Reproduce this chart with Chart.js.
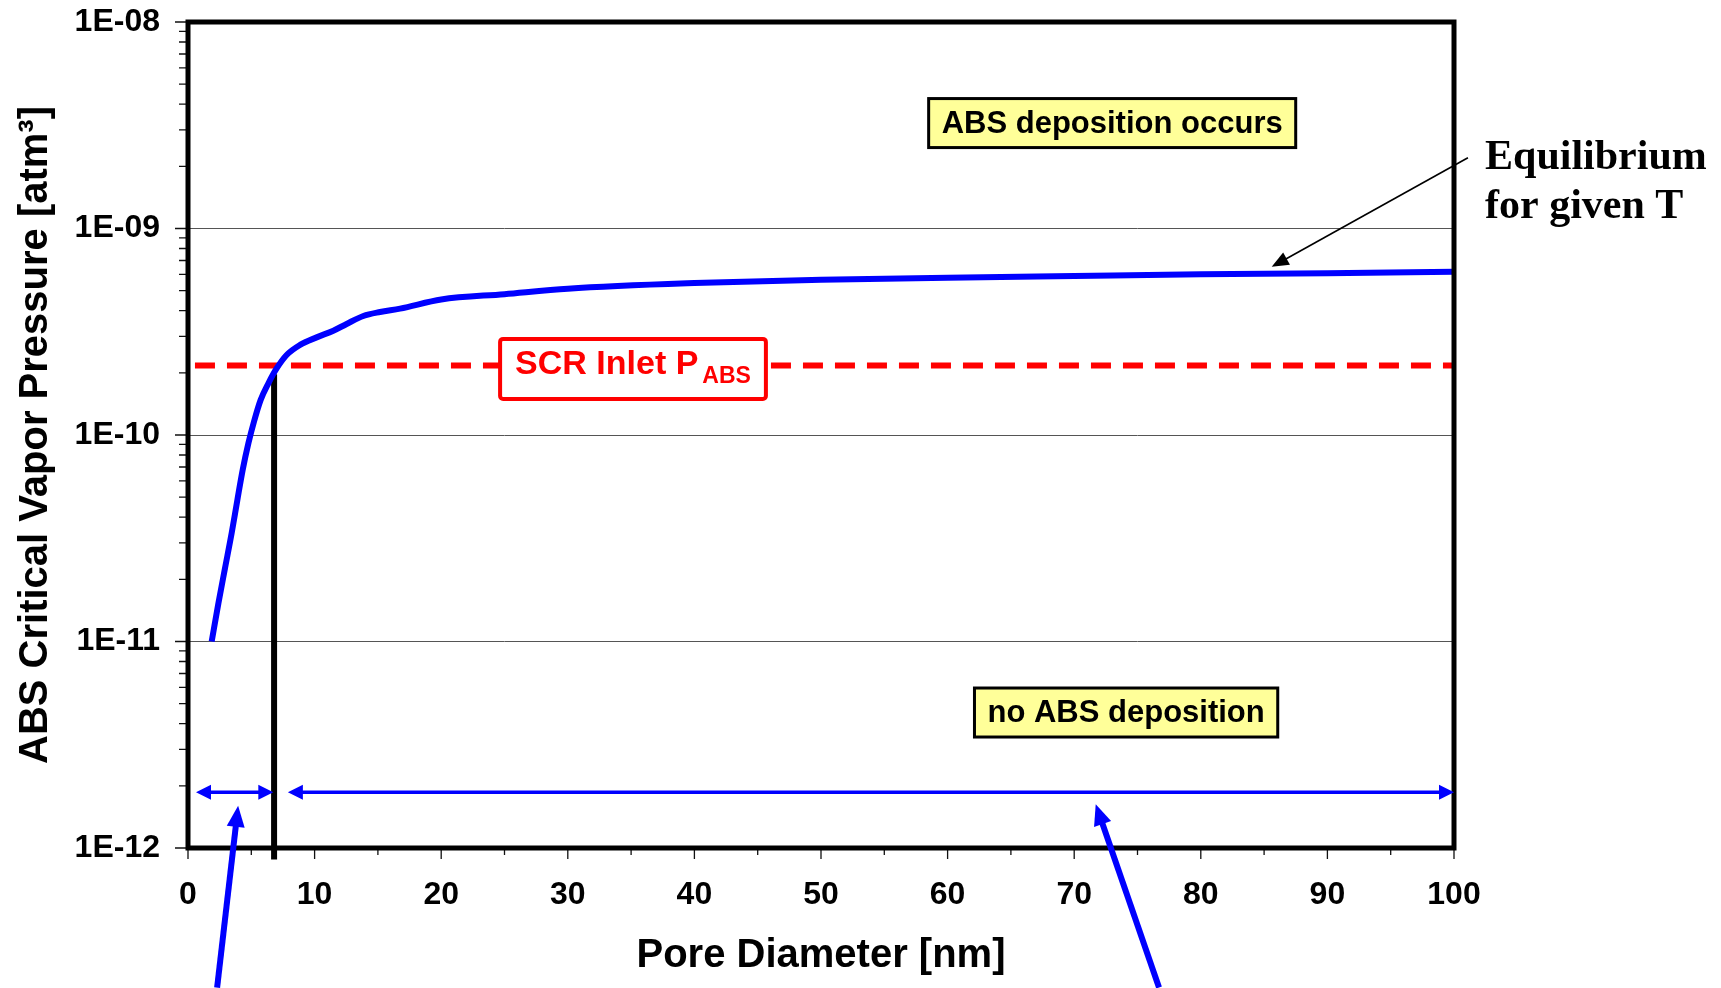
<!DOCTYPE html>
<html>
<head>
<meta charset="utf-8">
<script src="https://cdn.jsdelivr.net/npm/chart.js@4.4.0/dist/chart.umd.min.js"></script>
<style>
  html, body { margin: 0; padding: 0; background: #fff; }
  canvas { display: block; }
</style>
</head>
<body>
<canvas id="chart" width="1721" height="988"></canvas>
<script>
var SANS = '"Liberation Sans", Arial, sans-serif';
var SERIF = '"Liberation Serif", "Times New Roman", serif';

// equilibrium curve
var poreDiameter = [1.87, 2.4, 2.92, 3.45, 3.9, 4.32, 4.77, 5.21, 5.74, 6.35, 7.0, 7.79, 8.85, 10.16, 11.48, 12.53, 13.85, 15.17, 16.75, 20, 25, 30, 40, 50, 60, 70, 80, 90, 100];
var equilibriumPressure = [1.0e-11, 1.53e-11, 2.26e-11, 3.35e-11, 4.85e-11, 6.78e-11, 9.12e-11, 1.16e-10, 1.48e-10, 1.78e-10, 2.1e-10, 2.44e-10, 2.73e-10, 2.97e-10, 3.2e-10, 3.45e-10, 3.77e-10, 3.94e-10, 4.09e-10, 4.53e-10, 4.81e-10, 5.11e-10, 5.44e-10, 5.64e-10, 5.78e-10, 5.89e-10, 6.0e-10, 6.07e-10, 6.18e-10];

// SCR inlet partial pressure (red dashed)
var inletDiameter = [0.55, 100];
var inletPressure = [2.17e-10, 2.17e-10];

// critical pore diameter (black vertical)
var criticalDiameter = [6.8, 6.8];
var criticalPressure = [1.97e-10, 8.8e-13];

// blue range arrows
var rangeLevel = 1.86e-12;
var smallPores = [0.63, 6.74];
var largePores = [7.89, 100];

// blue pointer arrows coming from below: [tailX, tailY, tipX, tipY]
var pointerSmall = [2.3, 2.11e-13, 3.96, 1.6e-12];
var pointerLarge = [76.7, 2.11e-13, 71.7, 1.63e-12];

// black arrow to the curve
var equilibriumArrow = [101.1, 2.2e-9, 85.6, 6.52e-10];

var xTickValues = [0, 10, 20, 30, 40, 50, 60, 70, 80, 90, 100];
var xTickLabels = ['0', '10', '20', '30', '40', '50', '60', '70', '80', '90', '100'];
var yTickValues = [1e-12, 1e-11, 1e-10, 1e-9, 1e-8];
var yTickLabels = ['1E-12', '1E-11', '1E-10', '1E-09', '1E-08'];

var notes = {
  occurs: { text: 'ABS deposition occurs', x: 73, y: 3.24e-9 },
  none: { text: 'no ABS deposition', x: 74.1, y: 4.53e-12 },
  inlet: { text: 'SCR Inlet P', sub: 'ABS', x: 35.15, y: 2.09e-10 },
  equilibrium: { lines: ['Equilibrium', 'for given T'], x: 102.45, y: 1.94e-9 }
};

function toPoints(xs, ys) {
  return xs.map(function (x, i) { return { x: x, y: ys[i] }; });
}

function arrowHead(ctx, x1, y1, x2, y2, len, width) {
  var a = Math.atan2(y2 - y1, x2 - x1);
  ctx.save();
  ctx.translate(x2, y2);
  ctx.rotate(a);
  ctx.beginPath();
  ctx.moveTo(0, 0);
  ctx.lineTo(-len, -width / 2);
  ctx.lineTo(-len, width / 2);
  ctx.closePath();
  ctx.fill();
  ctx.restore();
}

function arrow(ctx, x1, y1, x2, y2, opts) {
  var a = Math.atan2(y2 - y1, x2 - x1);
  var back = opts.len * 0.8;
  ctx.save();
  ctx.strokeStyle = opts.color;
  ctx.fillStyle = opts.color;
  ctx.lineWidth = opts.lineWidth;
  var sx = x1, sy = y1;
  if (opts.both) {
    sx = x1 + Math.cos(a) * back;
    sy = y1 + Math.sin(a) * back;
  }
  ctx.beginPath();
  ctx.moveTo(sx, sy);
  ctx.lineTo(x2 - Math.cos(a) * back, y2 - Math.sin(a) * back);
  ctx.stroke();
  arrowHead(ctx, x1, y1, x2, y2, opts.len, opts.width);
  if (opts.both) arrowHead(ctx, x2, y2, x1, y1, opts.len, opts.width);
  ctx.restore();
}

function noteBox(ctx, cx, cy, text) {
  ctx.save();
  ctx.font = 'bold 31px ' + SANS;
  var w = ctx.measureText(text).width + 26, h = 49;
  ctx.fillStyle = '#ffff99';
  ctx.fillRect(cx - w / 2, cy - h / 2, w, h);
  ctx.lineWidth = 3;
  ctx.strokeStyle = '#000';
  ctx.strokeRect(cx - w / 2, cy - h / 2, w, h);
  ctx.fillStyle = '#000';
  ctx.textAlign = 'center';
  ctx.textBaseline = 'middle';
  ctx.fillText(text, cx, cy + 1);
  ctx.restore();
}

var overlay = {
  id: 'overlay',
  afterDatasetsDraw: function (chart) {
    var ctx = chart.ctx, xs = chart.scales.x, ys = chart.scales.y, a = chart.chartArea;
    var px = function (v) { return xs.getPixelForValue(v); };
    var py = function (v) { return ys.getPixelForValue(v); };

    // tick marks outside the frame
    ctx.save();
    ctx.strokeStyle = '#111';
    ctx.lineWidth = 1.3;
    ctx.beginPath();
    for (var e = -12; e < -8; e++) {
      for (var k = 1; k <= 10; k++) {
        var y = py(k * Math.pow(10, e));
        var len = (k === 1 || k === 10) ? 13 : 9;
        ctx.moveTo(a.left, y);
        ctx.lineTo(a.left - len, y);
      }
    }
    for (var v = 0; v <= 100; v += 5) {
      var x = px(v);
      ctx.moveTo(x, a.bottom);
      ctx.lineTo(x, a.bottom + (v % 10 === 0 ? 11 : 7));
    }
    ctx.stroke();
    ctx.restore();

    // frame
    ctx.save();
    ctx.lineWidth = 5;
    ctx.strokeStyle = '#000';
    ctx.strokeRect(a.left, a.top, a.right - a.left, a.bottom - a.top);
    ctx.restore();

    // range arrows
    var blueThin = { color: '#0000ff', lineWidth: 3.5, len: 15, width: 15, both: true };
    arrow(ctx, px(smallPores[0]), py(rangeLevel), px(smallPores[1]), py(rangeLevel), blueThin);
    arrow(ctx, px(largePores[0]), py(rangeLevel), px(largePores[1]), py(rangeLevel), blueThin);

    // pointer arrows from below
    var blueThick = { color: '#0000ff', lineWidth: 6, len: 21, width: 18, both: false };
    arrow(ctx, px(pointerSmall[0]), py(pointerSmall[1]), px(pointerSmall[2]), py(pointerSmall[3]), blueThick);
    arrow(ctx, px(pointerLarge[0]), py(pointerLarge[1]), px(pointerLarge[2]), py(pointerLarge[3]), blueThick);

    // equilibrium arrow
    arrow(ctx, px(equilibriumArrow[0]), py(equilibriumArrow[1]), px(equilibriumArrow[2]), py(equilibriumArrow[3]),
      { color: '#000', lineWidth: 1.6, len: 17, width: 14, both: false });

    // yellow notes
    noteBox(ctx, px(notes.occurs.x), py(notes.occurs.y), notes.occurs.text);
    noteBox(ctx, px(notes.none.x), py(notes.none.y), notes.none.text);

    // SCR inlet label
    var n = notes.inlet, cx = px(n.x), cy = py(n.y);
    ctx.save();
    ctx.font = 'bold 34px ' + SANS;
    var mainW = ctx.measureText(n.text).width;
    ctx.font = 'bold 23px ' + SANS;
    var subW = ctx.measureText(n.sub).width;
    var w = mainW + 4 + subW + 30, h = 60;
    ctx.fillStyle = '#fff';
    ctx.strokeStyle = '#ff0000';
    ctx.lineWidth = 4;
    ctx.beginPath();
    ctx.roundRect(cx - w / 2, cy - h / 2, w, h, 3);
    ctx.fill();
    ctx.stroke();
    ctx.fillStyle = '#ff0000';
    ctx.textBaseline = 'alphabetic';
    ctx.textAlign = 'left';
    var tx = cx - w / 2 + 15;
    ctx.font = 'bold 34px ' + SANS;
    ctx.fillText(n.text, tx, cy + 5);
    ctx.font = 'bold 23px ' + SANS;
    ctx.fillText(n.sub, tx + mainW + 4, cy + 14);
    ctx.restore();

    // equilibrium text
    var eq = notes.equilibrium;
    ctx.save();
    ctx.font = 'bold 42px ' + SERIF;
    ctx.fillStyle = '#000';
    ctx.textAlign = 'left';
    ctx.textBaseline = 'alphabetic';
    eq.lines.forEach(function (line, i) {
      ctx.fillText(line, px(eq.x), py(eq.y) + i * 49);
    });
    ctx.restore();
  }
};

new Chart(document.getElementById('chart'), {
  type: 'line',
  data: {
    datasets: [{
      data: toPoints(poreDiameter, equilibriumPressure),
      borderColor: '#0000ff',
      borderWidth: 6,
      pointRadius: 0,
      cubicInterpolationMode: 'monotone',
      fill: false
    }, {
      data: toPoints(inletDiameter, inletPressure),
      borderColor: '#ff0000',
      borderWidth: 6,
      borderDash: [20, 12],
      pointRadius: 0,
      fill: false
    }, {
      data: toPoints(criticalDiameter, criticalPressure),
      borderColor: '#000',
      borderWidth: 6,
      pointRadius: 0,
      clip: false,
      fill: false
    }]
  },
  options: {
    responsive: false,
    animation: false,
    devicePixelRatio: 1,
    layout: { padding: { left: 0, top: 22, right: 267, bottom: 0 } },
    plugins: { legend: { display: false }, tooltip: { enabled: false } },
    scales: {
      x: {
        type: 'linear',
        min: 0,
        max: 100,
        afterBuildTicks: function (scale) {
          scale.ticks = xTickValues.map(function (v) { return { value: v }; });
        },
        afterFit: function (scale) {
          scale.height = 140;
          scale.paddingLeft = 0;
          scale.paddingRight = 0;
        },
        ticks: {
          callback: function (value, index) { return xTickLabels[index]; },
          font: { family: SANS, size: 32, weight: 'bold' },
          color: '#000',
          padding: 28,
          maxRotation: 0
        },
        grid: { drawOnChartArea: false, drawTicks: false },
        border: { display: false },
        title: {
          display: true,
          text: 'Pore Diameter [nm]',
          font: { family: SANS, size: 40, weight: 'bold' },
          color: '#000',
          padding: { top: 0, bottom: 8 }
        }
      },
      y: {
        type: 'logarithmic',
        min: 1e-12,
        max: 1e-8,
        afterBuildTicks: function (scale) {
          scale.ticks = yTickValues.map(function (v) { return { value: v }; });
        },
        afterFit: function (scale) {
          scale.width = 188;
          scale.paddingTop = 0;
          scale.paddingBottom = 0;
        },
        ticks: {
          callback: function (value, index) { return yTickLabels[index]; },
          font: { family: SANS, size: 32, weight: 'bold' },
          color: '#000',
          padding: 28
        },
        grid: { color: '#555', lineWidth: 1, drawTicks: false },
        border: { display: false },
        title: {
          display: true,
          text: 'ABS Critical Vapor Pressure [atm\u00b3]',
          font: { family: SANS, size: 40, weight: 'bold' },
          color: '#000',
          padding: { top: 12, bottom: 0 }
        }
      }
    }
  },
  plugins: [overlay]
});
</script>
</body>
</html>
